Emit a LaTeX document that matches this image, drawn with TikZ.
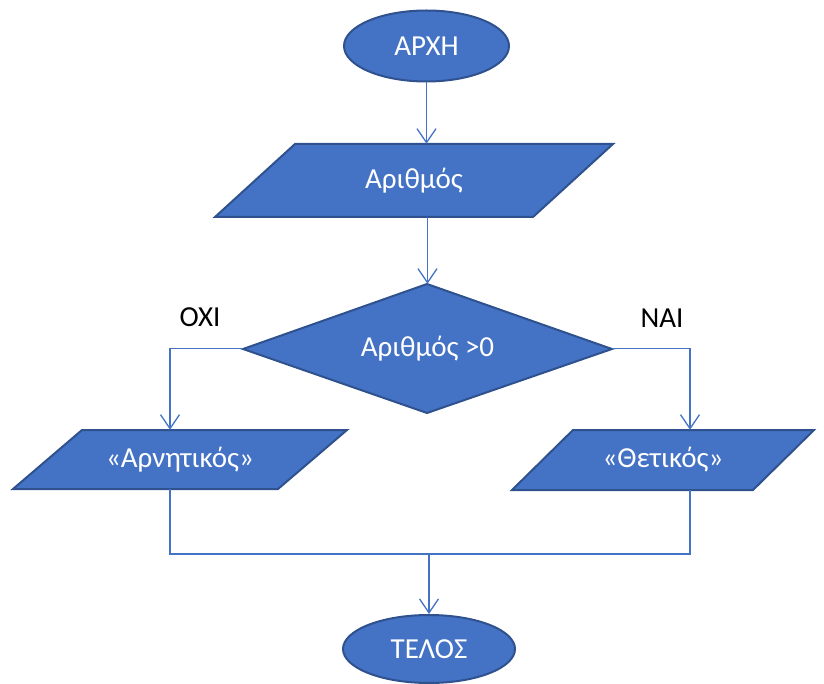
\documentclass[tikz,border=0pt]{standalone}
\usepackage{fontspec}
\setmainfont{Carlito}
\usetikzlibrary{shapes.geometric,arrows.meta}
\definecolor{shapefill}{HTML}{4472C4}
\definecolor{shapeedge}{HTML}{2F528F}
\definecolor{connblue}{HTML}{4472C4}
\tikzset{
  txt/.style={font=\fontsize{29}{34}\selectfont},
  term/.style={ellipse, fill=shapefill, draw=shapeedge, line width=2pt, text=white, inner sep=0pt, txt},
  holder/.style={rectangle, inner sep=0pt, text=white, txt},
  shapebody/.style={fill=shapefill, draw=shapeedge, line width=2pt, line join=miter},
  conn/.style={draw=connblue, line width=1.3pt},
  arr/.style={conn, -{Straight Barb[length=14pt,width=19pt,line width=1.3pt]}},
  lbl/.style={text=black, txt}
}
\begin{document}
\begin{tikzpicture}[x=1pt,y=-1pt]
\useasboundingbox (0,0) rectangle (824,684);
% shapes
\node[term, minimum width=165pt, minimum height=71pt] (start) at (426.5,46) {\raisebox{-4pt}{ΑΡΧΗ}};

\fill[shapebody] (295,144) -- (613,144) -- (533,217) -- (215,217) -- cycle;
\node[holder, minimum width=240pt, minimum height=73pt] (in) at (414,180.5) {\raisebox{2pt}{Αριθμός}};

\fill[shapebody] (427,284) -- (612,349) -- (427,413) -- (243,349) -- cycle;
\node[holder, minimum width=369pt, minimum height=129pt] (dec) at (427.5,348.5) {Αριθμός >0};

\fill[shapebody] (82,430) -- (347,430) -- (278,489) -- (13,489) -- cycle;
\node[holder, minimum width=196pt, minimum height=59pt] (neg) at (180,459.5) {«Αρνητικός»};

\fill[shapebody] (573,430) -- (814,430) -- (753,490) -- (512,490) -- cycle;
\node[holder, minimum width=180pt, minimum height=60pt] (pos) at (663,460) {«Θετικός»};

\node[term, minimum width=172pt, minimum height=68pt] (end) at (429,649) {\raisebox{-3pt}{ΤΕΛΟΣ}};

% labels
\node[lbl] (no) at (200,317) {ΟΧΙ};
\node[lbl] (yes) at (662,318) {ΝΑΙ};

% connectors
\coordinate (nx) at (170,0);
\coordinate (px) at (690,0);
\coordinate (j) at (429,554);
\draw[arr] (start.south) -- (start.south |- in.north);
\draw[arr] (dec.north |- in.south) -- (dec.north);
\draw[arr] (dec.west) -| (nx |- neg.north);
\draw[arr] (dec.east) -| (px |- pos.north);
\draw[conn] (nx |- neg.south) -- (nx |- j) -- (px |- j) -- (px |- pos.south);
\draw[arr] (j) -- (j |- end.north);
\end{tikzpicture}
\end{document}
